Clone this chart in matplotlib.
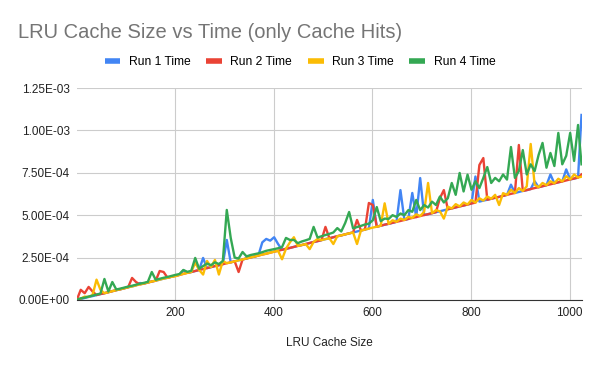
import matplotlib
matplotlib.use("Agg")
import matplotlib.pyplot as plt
from matplotlib.ticker import FuncFormatter
from matplotlib.lines import Line2D

plt.rcParams['font.family'] = ['Liberation Sans', 'DejaVu Sans']

# cache sizes sampled every 8 entries
cache_size = list(range(1, 1024, 8)) + [1024]

# times in microseconds
run1 = [1, 6, 12, 18, 23, 29, 35, 40, 46, 52, 58, 63, 69, 75, 80, 86,
        100, 97, 103, 109, 114, 120, 126, 131, 137, 143, 148, 175, 160, 165, 171, 177,
        248, 188, 194, 200, 205, 211, 354, 222, 228, 234, 239, 245, 251, 256, 262, 340,
        360, 350, 370, 330, 296, 302, 307, 313, 319, 324, 330, 336, 342, 347, 353, 359,
        364, 370, 376, 381, 387, 393, 398, 404, 410, 415, 421, 590, 432, 438, 444, 449,
        455, 461, 648, 472, 478, 631, 489, 719, 501, 506, 512, 518, 523, 529, 535, 540,
        546, 552, 557, 563, 569, 728, 580, 586, 591, 597, 603, 608, 614, 620, 680, 631,
        637, 643, 648, 654, 700, 665, 671, 677, 740, 688, 694, 699, 770, 711, 716, 722,
        1091]
run2 = [1, 60, 40, 77, 50, 29, 35, 40, 46, 52, 58, 63, 69, 75, 130, 106,
        92, 97, 103, 109, 114, 171, 165, 131, 137, 143, 148, 154, 160, 165, 171, 177,
        182, 188, 194, 200, 205, 211, 217, 222, 228, 165, 239, 245, 251, 256, 262, 268,
        273, 279, 285, 290, 296, 302, 307, 313, 319, 324, 330, 336, 342, 347, 353, 431,
        364, 370, 376, 381, 387, 393, 398, 472, 410, 415, 572, 560, 432, 438, 444, 449,
        455, 461, 466, 472, 478, 484, 489, 495, 501, 506, 512, 518, 601, 648, 535, 540,
        546, 552, 557, 563, 569, 574, 796, 837, 591, 597, 603, 608, 614, 620, 626, 631,
        914, 643, 648, 654, 660, 665, 671, 677, 682, 688, 694, 699, 705, 711, 716, 722,
        740]
run3 = [1, 8, 20, 18, 30, 120, 60, 40, 46, 52, 58, 63, 69, 75, 80, 86,
        92, 97, 103, 109, 114, 120, 126, 131, 137, 140, 148, 154, 160, 165, 220, 177,
        150, 230, 194, 236, 150, 230, 217, 222, 228, 234, 239, 245, 251, 256, 262, 268,
        273, 279, 285, 290, 240, 302, 340, 370, 319, 324, 330, 300, 342, 360, 353, 359,
        364, 330, 376, 381, 387, 393, 398, 330, 410, 415, 421, 427, 432, 438, 570, 449,
        470, 461, 480, 472, 490, 484, 505, 495, 520, 690, 512, 530, 523, 480, 550, 540,
        565, 552, 575, 563, 590, 574, 600, 586, 610, 597, 620, 560, 630, 620, 650, 631,
        660, 643, 670, 920, 680, 665, 690, 677, 700, 688, 715, 699, 730, 711, 740, 722,
        727]
run4 = [2, 10, 14, 20, 26, 32, 38, 124, 50, 106, 62, 67, 73, 79, 84, 90,
        96, 101, 107, 165, 119, 125, 131, 136, 142, 148, 153, 177, 166, 172, 248, 184,
        200, 215, 205, 222, 212, 230, 531, 366, 250, 245, 283, 257, 265, 270, 275, 282,
        290, 295, 300, 305, 312, 366, 354, 354, 335, 345, 352, 360, 431, 368, 376, 383,
        390, 398, 424, 404, 454, 519, 422, 430, 437, 445, 450, 470, 548, 465, 480, 478,
        500, 490, 510, 500, 530, 520, 590, 530, 560, 545, 580, 560, 610, 575, 600, 690,
        620, 749, 640, 739, 650, 700, 660, 720, 784, 690, 720, 700, 740, 710, 902, 720,
        760, 884, 740, 800, 760, 855, 926, 780, 867, 790, 985, 800, 850, 985, 820, 1032,
        800]

labels = ["Run 1 Time", "Run 2 Time", "Run 3 Time", "Run 4 Time"]
colors = ["#4285F4", "#EA4335", "#FBBC04", "#34A853"]


def main():
    fig = plt.figure(figsize=(6, 3.71), dpi=100)
    ax = fig.add_axes([0.128, 0.1914, 0.842, 0.5714])

    for vals, lab, col in zip([run1, run2, run3, run4], labels, colors):
        ax.plot(cache_size, [v * 1e-6 for v in vals], color=col, lw=1.7, label=lab)

    ax.set_xlim(1, 1025)
    ax.set_ylim(0, 1.25e-3)
    ax.set_xticks([200, 400, 600, 800, 1000])
    ax.set_yticks([0, 2.5e-4, 5e-4, 7.5e-4, 1e-3, 1.25e-3])
    ax.yaxis.set_major_formatter(FuncFormatter(lambda v, p: f"{v:.2E}"))
    ax.grid(True, color="#cccccc", lw=0.8)
    ax.set_axisbelow(True)
    for s in ["left", "right", "top"]:
        ax.spines[s].set_visible(False)
    ax.spines["bottom"].set_color("#333333")
    ax.tick_params(length=0, labelsize=8.5, colors="#222222", pad=5)
    ax.set_xlabel("LRU Cache Size", fontsize=8.5, color="#222222", labelpad=13)

    fig.text(0.03, 0.913, "LRU Cache Size vs Time (only Cache Hits)",
             fontsize=14.5, color="#757575", va="center")

    handles = [Line2D([], [], color=c, lw=4, solid_capstyle="butt") for c in colors]
    fig.legend(handles, labels, loc="center", bbox_to_anchor=(0.5, 0.833), ncol=4,
               frameon=False, fontsize=8.7, handlelength=1.3, handletextpad=0.7,
               columnspacing=1.3)

    fig.savefig("out.png", dpi=100)


if __name__ == "__main__":
    main()
